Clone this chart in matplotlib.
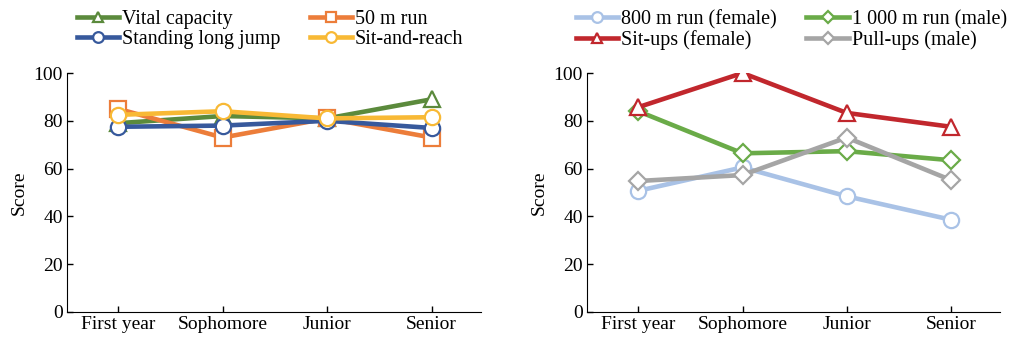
import matplotlib.pyplot as plt

plt.rcParams['font.family'] = ['Liberation Serif', 'DejaVu Serif']

years = ["First year", "Sophomore", "Junior", "Senior"]

# left panel
vital_capacity = [79, 82, 81, 89]
run_50m = [85, 73, 81, 73]
long_jump = [77.5, 78, 80, 77]
sit_and_reach = [82.5, 84, 81, 81.5]

# right panel
run_800m_f = [50.7, 60.5, 48.4, 38.6]
run_1000m_m = [84, 66.4, 67.3, 63.5]
situps_f = [85.7, 100, 83.3, 77.5]
pullups_m = [54.8, 57.3, 73, 55.2]

left_series = [
    ("Vital capacity", vital_capacity, "#5b8a3c", "^"),
    ("50 m run", run_50m, "#ec7d3a", "s"),
    ("Standing long jump", long_jump, "#37599c", "o"),
    ("Sit-and-reach", sit_and_reach, "#f8b935", "o"),
]
right_series = [
    ("800 m run (female)", run_800m_f, "#a9c2e6", "o"),
    ("1 000 m run (male)", run_1000m_m, "#6aab48", "D"),
    ("Sit-ups (female)", situps_f, "#c1272d", "^"),
    ("Pull-ups (male)", pullups_m, "#a5a5a5", "D"),
]

fig = plt.figure(figsize=(10.09, 3.38), dpi=100)
ax1 = fig.add_axes([0.0664, 0.077, 0.410, 0.707])
ax2 = fig.add_axes([0.582, 0.077, 0.409, 0.707])

for ax, series, leg_x in ((ax1, left_series, 0.072), (ax2, right_series, 0.567)):
    x = list(range(len(years)))
    lines = []
    for label, vals, color, marker in series:
        ms = 9 if marker == "D" else 11
        ln, = ax.plot(x, vals, color=color, lw=3.3, marker=marker, ms=ms,
                      mfc="white", mec=color, mew=1.6, label=label)
        lines.append(ln)
    ax.set_xlim(-0.49, 3.47)
    ax.set_ylim(0, 100)
    ax.set_yticks(range(0, 101, 20))
    ax.set_xticks(x)
    ax.set_xticklabels(years)
    ax.tick_params(direction="in", labelsize=14, length=4, width=1, pad=3)
    ax.spines["top"].set_visible(False)
    ax.spines["right"].set_visible(False)
    ax.set_ylabel("Score", fontsize=14, labelpad=4)
    # legend fills row by row in the reference
    order = [0, 2, 1, 3]
    ax.legend([lines[i] for i in order], [lines[i].get_label() for i in order],
              loc="upper left", bbox_to_anchor=(leg_x, 0.982),
              bbox_transform=fig.transFigure, ncol=2, frameon=False,
              fontsize=14.5, handlelength=2.1, handletextpad=0.15,
              columnspacing=1.45, labelspacing=0.05, borderaxespad=0.1,
              borderpad=0.1, markerscale=0.7)

fig.savefig("out.png", dpi=100)
